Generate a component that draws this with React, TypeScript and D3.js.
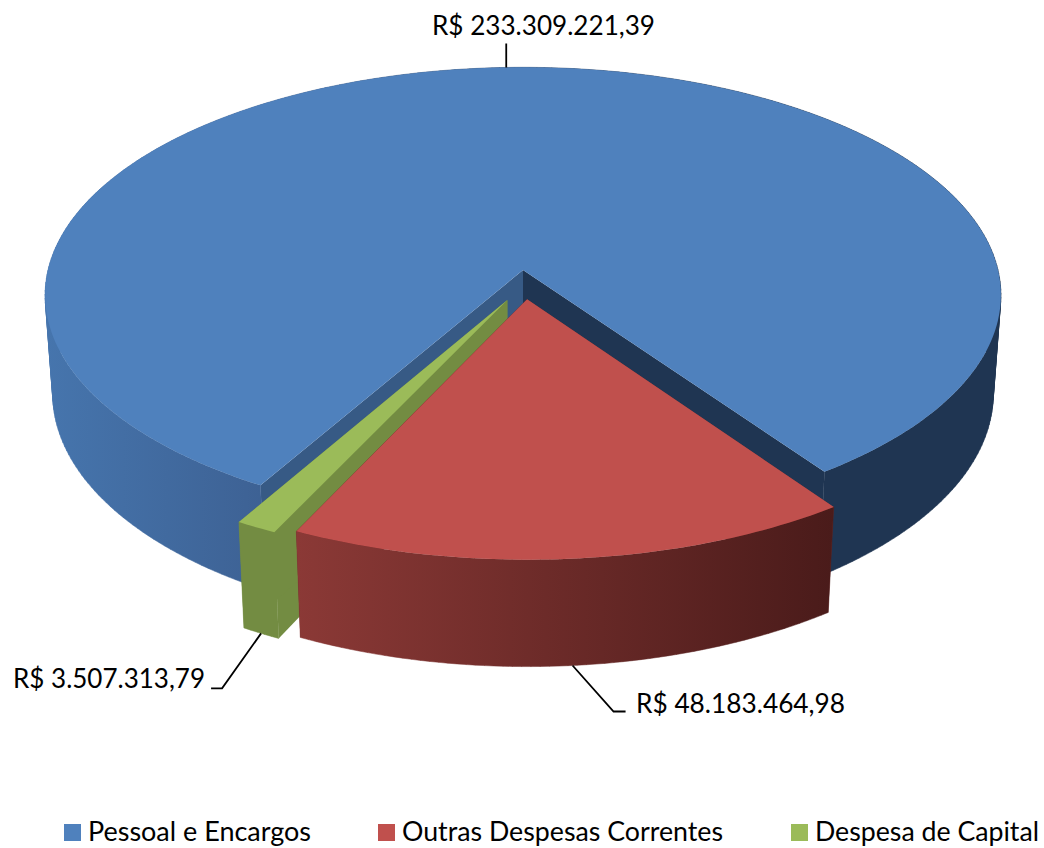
import React from "react";
import * as d3 from "d3";

const categories = ["Pessoal e Encargos", "Outras Despesas Correntes", "Despesa de Capital"];
const values = [233309221.39, 48183464.98, 3507313.79];
const explodes = [0.064, 0.064, 0.076];
const topColors = ["#4f81bd", "#c0504d", "#9bbb59"];
const startCutColors = ["#375a85", "#8a3835", "#738c42"];
const endCutColors = ["#1f3552", "#4a1c1b", "#738c42"];
const wallStops: [number, string][][] = [
  [[0, "#4675ad"], [0.21, "#3e6396"], [0.5, "#2c4a72"], [0.76, "#1f3552"], [1, "#1f3552"]],
  [[0, "#8b3936"], [1, "#4a1b1a"]],
  [[0, "#738c42"], [1, "#738c42"]],
];
const legendSwatchX = [64, 378, 791];
const legendTextWidth = [223, 321, 224];

const WIDTH = 1044;
const HEIGHT = 848;
const OX = 523;
const OY = 270;
const RX = 475;
const RY = 225;
const DEPTH = 100;
const P = 0.11;
const Q = 0.016;
const FIRST_ANGLE = 210;
const FONT = "Lato, Carlito, Calibri, sans-serif";

const rad = (d: number) => (d * Math.PI) / 180;

const arcs = d3
  .pie<number>()
  .sort(null)
  .startAngle(rad(FIRST_ANGLE))
  .endAngle(rad(FIRST_ANGLE + 360))(values);

const blueMid = (arcs[0].startAngle + arcs[0].endAngle) / 2;
const centre: [number, number] = [-explodes[0] * Math.sin(blueMid), explodes[0] * Math.cos(blueMid)];

const apexOf = (a: d3.PieArcDatum<number>): [number, number] => {
  const m = (a.startAngle + a.endAngle) / 2;
  return [centre[0] + explodes[a.index] * Math.sin(m), centre[1] - explodes[a.index] * Math.cos(m)];
};

const project = (X: number, Y: number, Z: number): [number, number] => {
  const w = 1 - P * Y + Q * Z;
  return [OX + (RX * X) / w, OY + (RY * Y + DEPTH * Z) / w];
};

const rim = (a: d3.PieArcDatum<number>, ang: number, Z: number) => {
  const [ax, ay] = apexOf(a);
  return project(ax + Math.sin(ang), ay - Math.cos(ang), Z);
};
const apex = (a: d3.PieArcDatum<number>, Z: number) => {
  const [ax, ay] = apexOf(a);
  return project(ax, ay, Z);
};

const path = d3.line();
const sweep = (a: d3.PieArcDatum<number>) => {
  const n = Math.max(4, Math.ceil(((a.endAngle - a.startAngle) * 180) / Math.PI));
  return d3.range(n + 1).map((i) => a.startAngle + ((a.endAngle - a.startAngle) * i) / n);
};

// Union of wall quads, all wound the same way, so the silhouette stays filled
const wallPath = (a: d3.PieArcDatum<number>) => {
  const ts = sweep(a);
  return d3
    .pairs(ts)
    .map(([t0, t1]) => {
      const quad = [rim(a, t0, 0), rim(a, t1, 0), rim(a, t1, 1), rim(a, t0, 1)] as [number, number][];
      const ordered = d3.polygonArea(quad) < 0 ? quad.slice().reverse() : quad;
      return path(ordered) + "Z";
    })
    .join("");
};

const fmt = d3
  .formatLocale({ decimal: ",", thousands: ".", grouping: [3], currency: ["R$ ", ""] })
  .format("$,.2f");

const labelLayout = [
  { z: 0, shift: [3, 0], elbow: [0, -24], end: [0, -24], x: 432, y: 35, w: 223 },
  { z: 1, shift: [0, 0], elbow: [41, 46], end: [53, 46], x: 636, y: 713, w: 209 },
  { z: 1, shift: [0, 0], elbow: [-39, 55], end: [-50, 55], x: 13, y: 688, w: 192 },
];

export default function App() {
  return (
    <svg
      width={WIDTH}
      height={HEIGHT}
      viewBox={`0 0 ${WIDTH} ${HEIGHT}`}
      style={{ position: "absolute", left: 0, top: 0, background: "#fff" }}
    >
      <defs>
        {arcs.map((a, i) => {
          const xs = sweep(a).flatMap((t) => [rim(a, t, 0)[0], rim(a, t, 1)[0]]);
          const visible = d3.extent(xs);
          return (
            <linearGradient
              key={i}
              id={`wall${i}`}
              gradientUnits="userSpaceOnUse"
              x1={visible[0]}
              x2={visible[1]}
              y1={0}
              y2={0}
            >
              {wallStops[i].map(([o, c], k) => (
                <stop key={k} offset={o} stopColor={c} />
              ))}
            </linearGradient>
          );
        })}
      </defs>

      {[0, 2, 1].map((i) => {
        const a = arcs[i];
        const top = sweep(a).map((t) => rim(a, t, 0));
        const surface = path([apex(a, 0), ...top]) + "Z";
        const cut = (ang: number) =>
          path([apex(a, 0), rim(a, ang, 0), rim(a, ang, 1), apex(a, 1)]) + "Z";
        return (
          <g key={i}>
            <path d={cut(a.startAngle)} fill={startCutColors[i]} />
            <path d={cut(a.endAngle)} fill={endCutColors[i]} />
            <path d={wallPath(a)} fill={`url(#wall${i})`} stroke={`url(#wall${i})`} strokeWidth={0.5} />
            <path d={surface} fill={topColors[i]} />
          </g>
        );
      })}

      {arcs.map((a, i) => {
        const l = labelLayout[i];
        const m = (a.startAngle + a.endAngle) / 2;
        const anchor = rim(a, m, l.z);
        const p0: [number, number] = [anchor[0] + l.shift[0], anchor[1] + l.shift[1]];
        const pts: [number, number][] = [
          p0,
          [p0[0] + l.elbow[0], p0[1] + l.elbow[1]],
          [p0[0] + l.end[0], p0[1] + l.end[1]],
        ];
        return (
          <g key={i}>
            <path d={path(pts) || ""} fill="none" stroke="#000" strokeWidth={1.8} />
            <text
              x={l.x}
              y={l.y}
              fontFamily={FONT}
              fontSize={26}
              fill="#000"
              textLength={l.w}
              lengthAdjust="spacingAndGlyphs"
            >
              {fmt(values[i])}
            </text>
          </g>
        );
      })}

      {categories.map((c, i) => (
        <g key={c}>
          <rect x={legendSwatchX[i]} y={824} width={17} height={17} fill={topColors[i]} />
          <text
            x={legendSwatchX[i] + 24}
            y={841}
            fontFamily={FONT}
            fontSize={26}
            fill="#000"
            textLength={legendTextWidth[i]}
            lengthAdjust="spacingAndGlyphs"
          >
            {c}
          </text>
        </g>
      ))}
    </svg>
  );
}
